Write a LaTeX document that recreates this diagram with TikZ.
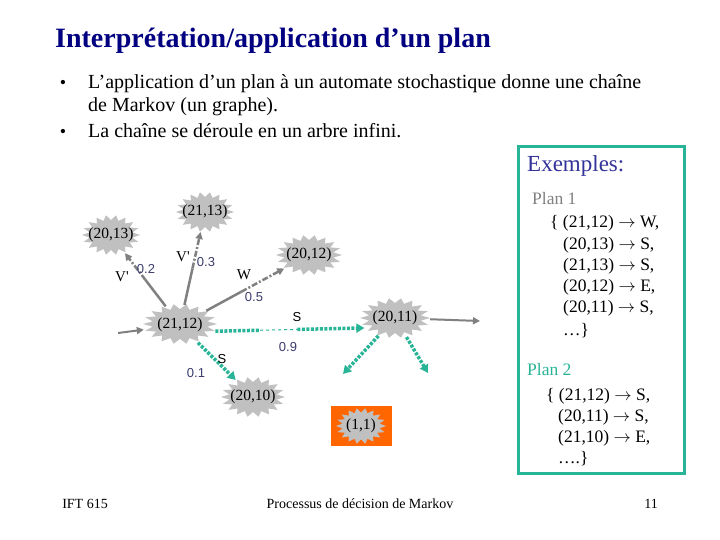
\documentclass[tikz,border=0pt]{standalone}
\usepackage{fontspec}
\setmainfont{Liberation Serif}
\newfontfamily\labelfont{Liberation Sans}
\usepackage{tikz}
\usetikzlibrary{shapes.geometric, arrows.meta, positioning, calc}
\definecolor{mynavy}{RGB}{0,0,128}
\definecolor{myteal}{RGB}{40,180,150}
\definecolor{mygray}{RGB}{128,128,128}
\definecolor{myburst}{RGB}{192,192,192}
\definecolor{myorange}{RGB}{255,102,0}
\definecolor{myslate}{RGB}{51,51,153}
\definecolor{mylabel}{RGB}{60,60,110}
\tikzset{
  etat/.style={ellipse, minimum width=58pt, minimum height=40pt,
    inner sep=0pt, font=\fontsize{15.5}{15.5}\selectfont},
  burst/.style={fill=myburst},
  grayedge/.style={draw=mygray, line width=2.5pt},
  grayarrow/.style={grayedge, -{Triangle[length=7pt,width=7pt]}},
  tealedge/.style={draw=myteal, line width=3.5pt, dash pattern=on 3pt off 1.5pt},
  tealarrow/.style={tealedge, -{Triangle[length=8pt,width=9pt]}},
  prob/.style={font=\labelfont\fontsize{13}{13}\selectfont, text=mylabel, inner sep=0pt},
  action/.style={font=\fontsize{15}{15}\selectfont, inner sep=0pt},
  saction/.style={font=\labelfont\fontsize{13}{13}\selectfont, inner sep=0pt},
  texte/.style={anchor=base west, inner sep=0pt, font=\fontsize{20}{20}\selectfont},
  plan/.style={anchor=base west, inner sep=0pt, font=\fontsize{17.5}{17.5}\selectfont},
  pied/.style={anchor=base, inner sep=0pt, font=\fontsize{14}{14}\selectfont}
}

\begin{document}
\begin{tikzpicture}[x=1pt, y=-1pt]
  \fill[white] (0,0) rectangle (720,540);
  \useasboundingbox (0,0) rectangle (720,540);
  % title and bullets
  \node[texte, font=\bfseries\fontsize{28}{28}\selectfont, text=mynavy] (titre) at (55,48) {Interprétation/application d’un plan};
  \node[inner sep=0pt, font=\fontsize{18}{18}\selectfont] (d1) at (63,84) {•};
  \node[texte] (b1) at (88,89) {L’application d’un plan à un automate stochastique donne une chaîne};
  \node[texte] (b1b) at (88,112) {de Markov (un graphe).};
  \node[inner sep=0pt, font=\fontsize{18}{18}\selectfont] (d2) at (63,133) {•};
  \node[texte] (b2) at (88,138) {La chaîne se déroule en un arbre infini.};
  % bursts behind the states
  \foreach \cx/\cy/\rx in {205/212/29, 111/235/29, 309/255/33, 180/324/37, 395/318/35, 253/397/32} {
    \fill[burst, shift={(\cx,\cy)}] plot[samples=37, domain=0:36, variable=\k]
      ({\rx*(1-0.25*mod(\k,2))*cos(10*\k)}, {20*(1-0.25*mod(\k,2))*sin(10*\k)}) -- cycle;
  }
  % goal state
  \fill[myorange] (331,406) rectangle (392,446);
  \fill[burst, shift={(361,426)}] plot[samples=37, domain=0:36, variable=\k]
      ({25*(1-0.25*mod(\k,2))*cos(10*\k)}, {18*(1-0.25*mod(\k,2))*sin(10*\k)}) -- cycle;
  % states
  \node[etat] (s2113) at (205,212) {(21,13)};
  \node[etat] (s2013) at (111,235) {(20,13)};
  \node[etat, minimum width=66pt] (s2012) at (309,255) {(20,12)};
  \node[etat, minimum width=74pt] (s2112) at (180,325) {(21,12)};
  \node[etat, minimum width=70pt] (s2011) at (395,318) {(20,11)};
  \node[etat, minimum width=64pt] (s2010) at (253,397) {(20,10)};
  \node[etat, minimum width=50pt, minimum height=36pt] (s11) at (361,426) {(1,1)};
  % plan 1 branches (gray)
  \coordinate (entree) at (118,333);
  \coordinate (sortie) at (480,321);
  \draw[grayarrow, line width=2pt] (entree) -- (s2112);
  \path (s2112) -- (s2013) coordinate[pos=0.5] (m1);
  \path (s2112) -- (s2113) coordinate[pos=0.5] (m2);
  \path (s2112) -- (s2012) coordinate[pos=0.45] (m3);
  \draw[grayedge] (s2112) -- (m1);
  \draw[grayarrow, dash pattern=on 6pt off 2pt on 2pt off 2pt] (m1) -- (s2013);
  \draw[grayedge] (s2112) -- (m2);
  \draw[grayarrow, dash pattern=on 6pt off 2pt on 2pt off 2pt] (m2) -- (s2113);
  \draw[grayedge] (s2112) -- (m3);
  \draw[grayarrow, dash pattern=on 6pt off 2pt on 2pt off 2pt] (m3) -- (s2012);
  \draw[grayarrow, line width=2pt] (s2011) -- (sortie);
  % plan 2 branches (teal)
  \path (s2112.-10) -- (s2011.198) coordinate[pos=0.3] (m4) coordinate[pos=0.55] (m5);
  \draw[tealedge] (s2112.-10) -- (m4);
  \draw[myteal, line width=1pt, dashed] (m4) -- (m5);
  \draw[tealarrow] (m5) -- (s2011.198);
  \draw[tealarrow] (s2112) -- (s2010);
  \coordinate (bas1) at (343,374);
  \coordinate (bas2) at (428,373);
  \draw[tealarrow] (s2011) -- (bas1);
  \draw[tealarrow] (s2011) -- (bas2);
  % action and probability labels
  \node[action] (a1) at (122,277) {V\textquotesingle};
  \node[prob] (p1) at (146,269) {0.2};
  \node[action] (a2) at (183,257) {V\textquotesingle};
  \node[prob] (p2) at (206,262) {0.3};
  \node[action] (a3) at (244,275) {W};
  \node[prob] (p3) at (254,297) {0.5};
  \node[saction] (a4) at (297,317) {S};
  \node[prob] (p4) at (288,347) {0.9};
  \node[saction] (a5) at (222,359) {S};
  \node[prob] (p5) at (196,373) {0.1};
  % examples box
  \draw[myteal, line width=3pt] (518,147) rectangle (684,473);
  \node[texte, font=\fontsize{23}{23}\selectfont, text=myslate] (ex) at (527,172) {Exemples:};
  \node[plan, text=mygray] (plan1) at (532,205) {Plan 1};
  \node[plan] (p1l0) at (550,228) {\{ (21,12) $\rightarrow$ W,};
  \foreach \y/\t [count=\i] in {249/{(20,13) $\rightarrow$ S,}, 270/{(21,13) $\rightarrow$ S,},
      291/{(20,12) $\rightarrow$ E,}, 312/{(20,11) $\rightarrow$ S,}, 335/{…\}}} {
    \node[plan] (p1l\i) at (563,\y) {\t};
  }
  \node[plan, text=myteal] (plan2) at (527,375) {Plan 2};
  \node[plan] (p2l0) at (546,400) {\{ (21,12) $\rightarrow$ S,};
  \foreach \y/\t [count=\i] in {421/{(20,11) $\rightarrow$ S,}, 442/{(21,10) $\rightarrow$ E,}, 463/{….\}}} {
    \node[plan] (p2l\i) at (558,\y) {\t};
  }
  % footer
  \node[pied] (f1) at (85,508) {IFT 615};
  \node[pied] (f2) at (360,508) {Processus de décision de Markov};
  \node[pied] (f3) at (651,508) {11};
\end{tikzpicture}
\end{document}
